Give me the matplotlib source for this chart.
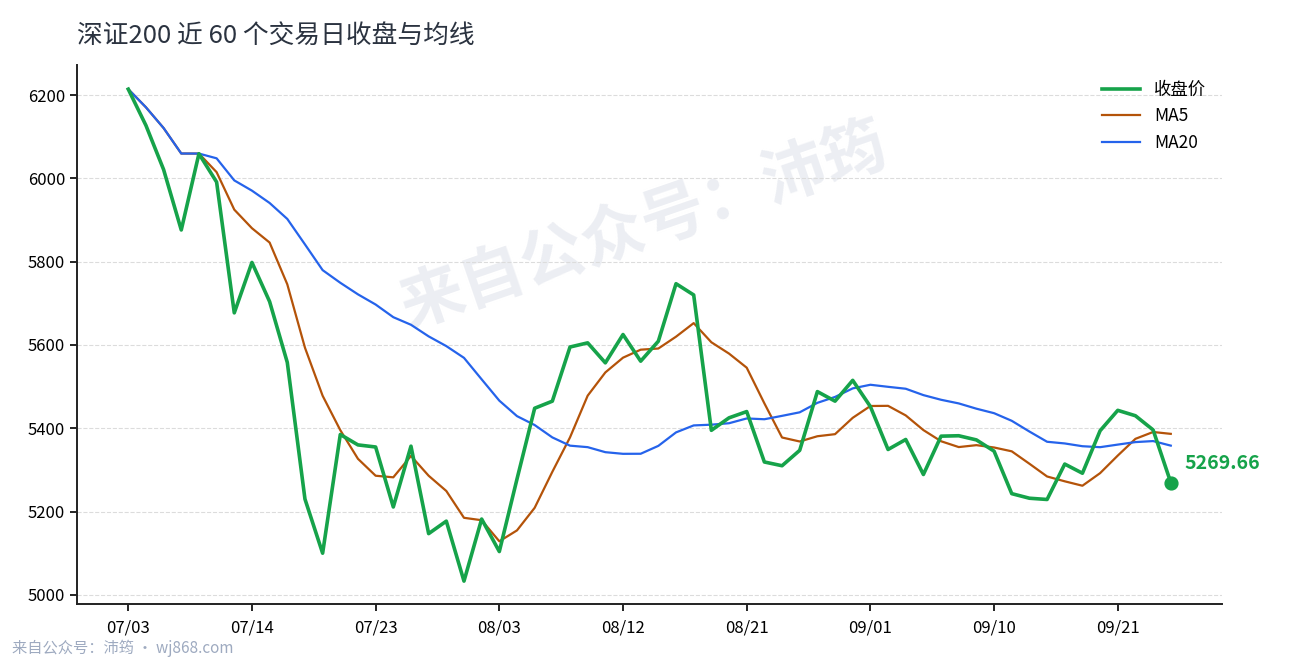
import numpy as np
import pandas as pd
import matplotlib; matplotlib.use('Agg')
import matplotlib.pyplot as plt

plt.rcParams['font.family'] = ['Noto Sans CJK SC', 'DejaVu Sans']

# ---- data: closes (60 trading days) ----
close = [6214, 6127, 6021, 5876, 6059, 5991, 5677, 5798, 5704, 5558,
         5230, 5100, 5385, 5360, 5355, 5211, 5357, 5147, 5177, 5033,
         5182, 5104, 5278, 5448, 5465, 5595, 5605, 5557, 5625, 5561,
         5609, 5747, 5720, 5395, 5425, 5440, 5319, 5310, 5347, 5488,
         5465, 5515, 5452, 5349, 5373, 5289, 5381, 5382, 5372, 5345,
         5243, 5232, 5229, 5314, 5292, 5394, 5443, 5430, 5396, 5269.66]
tick_idx = [0, 7, 14, 21, 28, 35, 42, 49, 56]
tick_labels = ['07/03', '07/14', '07/23', '08/03', '08/12', '08/21', '09/01', '09/10', '09/21']
y_ticks = [5000, 5200, 5400, 5600, 5800, 6000, 6200]

s = pd.Series(close)
ma5 = s.rolling(5, min_periods=1).mean()
ma20 = s.rolling(20, min_periods=1).mean()
x = np.arange(len(close))

GREEN = '#16a34a'
ORANGE = '#b45309'
BLUE = '#2563eb'

fig = plt.figure(figsize=(12.9, 6.6), dpi=100)
ax = fig.add_axes([0.0597, 0.0848, 0.8876, 0.8167])

# watermark
ax.text(0.495, 0.7, '来自公众号：沛筠', transform=ax.transAxes, fontsize=46,
        fontweight='bold', color='#eceef3', rotation=19, ha='center', va='center', zorder=0)

ax.plot(x, close, color=GREEN, lw=2.6, label='收盘价', zorder=4)
ax.plot(x, ma5, color=ORANGE, lw=1.6, label='MA5', zorder=3)
ax.plot(x, ma20, color=BLUE, lw=1.6, label='MA20', zorder=3)
ax.scatter([x[-1]], [close[-1]], s=85, color=GREEN, zorder=5)
ax.annotate(f'{close[-1]:.2f}', (x[-1], close[-1]), xytext=(10, 14), textcoords='offset points',
            color=GREEN, fontsize=14, fontweight='bold', ha='left', va='center')

ax.set_xlim(-2.9, 61.9)
ax.set_ylim(4978, 6272)
ax.set_xticks(tick_idx)
ax.set_xticklabels(tick_labels, fontsize=12)
ax.set_yticks(y_ticks)
ax.tick_params(axis='y', labelsize=12, length=5, width=1.2)
ax.tick_params(axis='x', length=5, width=1.2, pad=6)
ax.grid(axis='y', ls='--', color='#dcdcdc', lw=0.8)
ax.set_axisbelow(True)
for sp in ['top', 'right']:
    ax.spines[sp].set_visible(False)
for sp in ['left', 'bottom']:
    ax.spines[sp].set_linewidth(1.4)
    ax.spines[sp].set_color('#222222')

ax.legend(loc='upper right', frameon=False, fontsize=12.5, handlelength=2.2,
          bbox_to_anchor=(1.0, 1.0), labelspacing=0.5)

fig.text(0.0597, 0.945, '深证200 近 60 个交易日收盘与均线', fontsize=18.5, color='#2b3340',
         ha='left', va='center')
fig.text(0.009, 0.018, '来自公众号：沛筠 · wj868.com', fontsize=11, color='#9eaac0',
         ha='left', va='center')

fig.savefig('out.png', dpi=100)
plt.close()
